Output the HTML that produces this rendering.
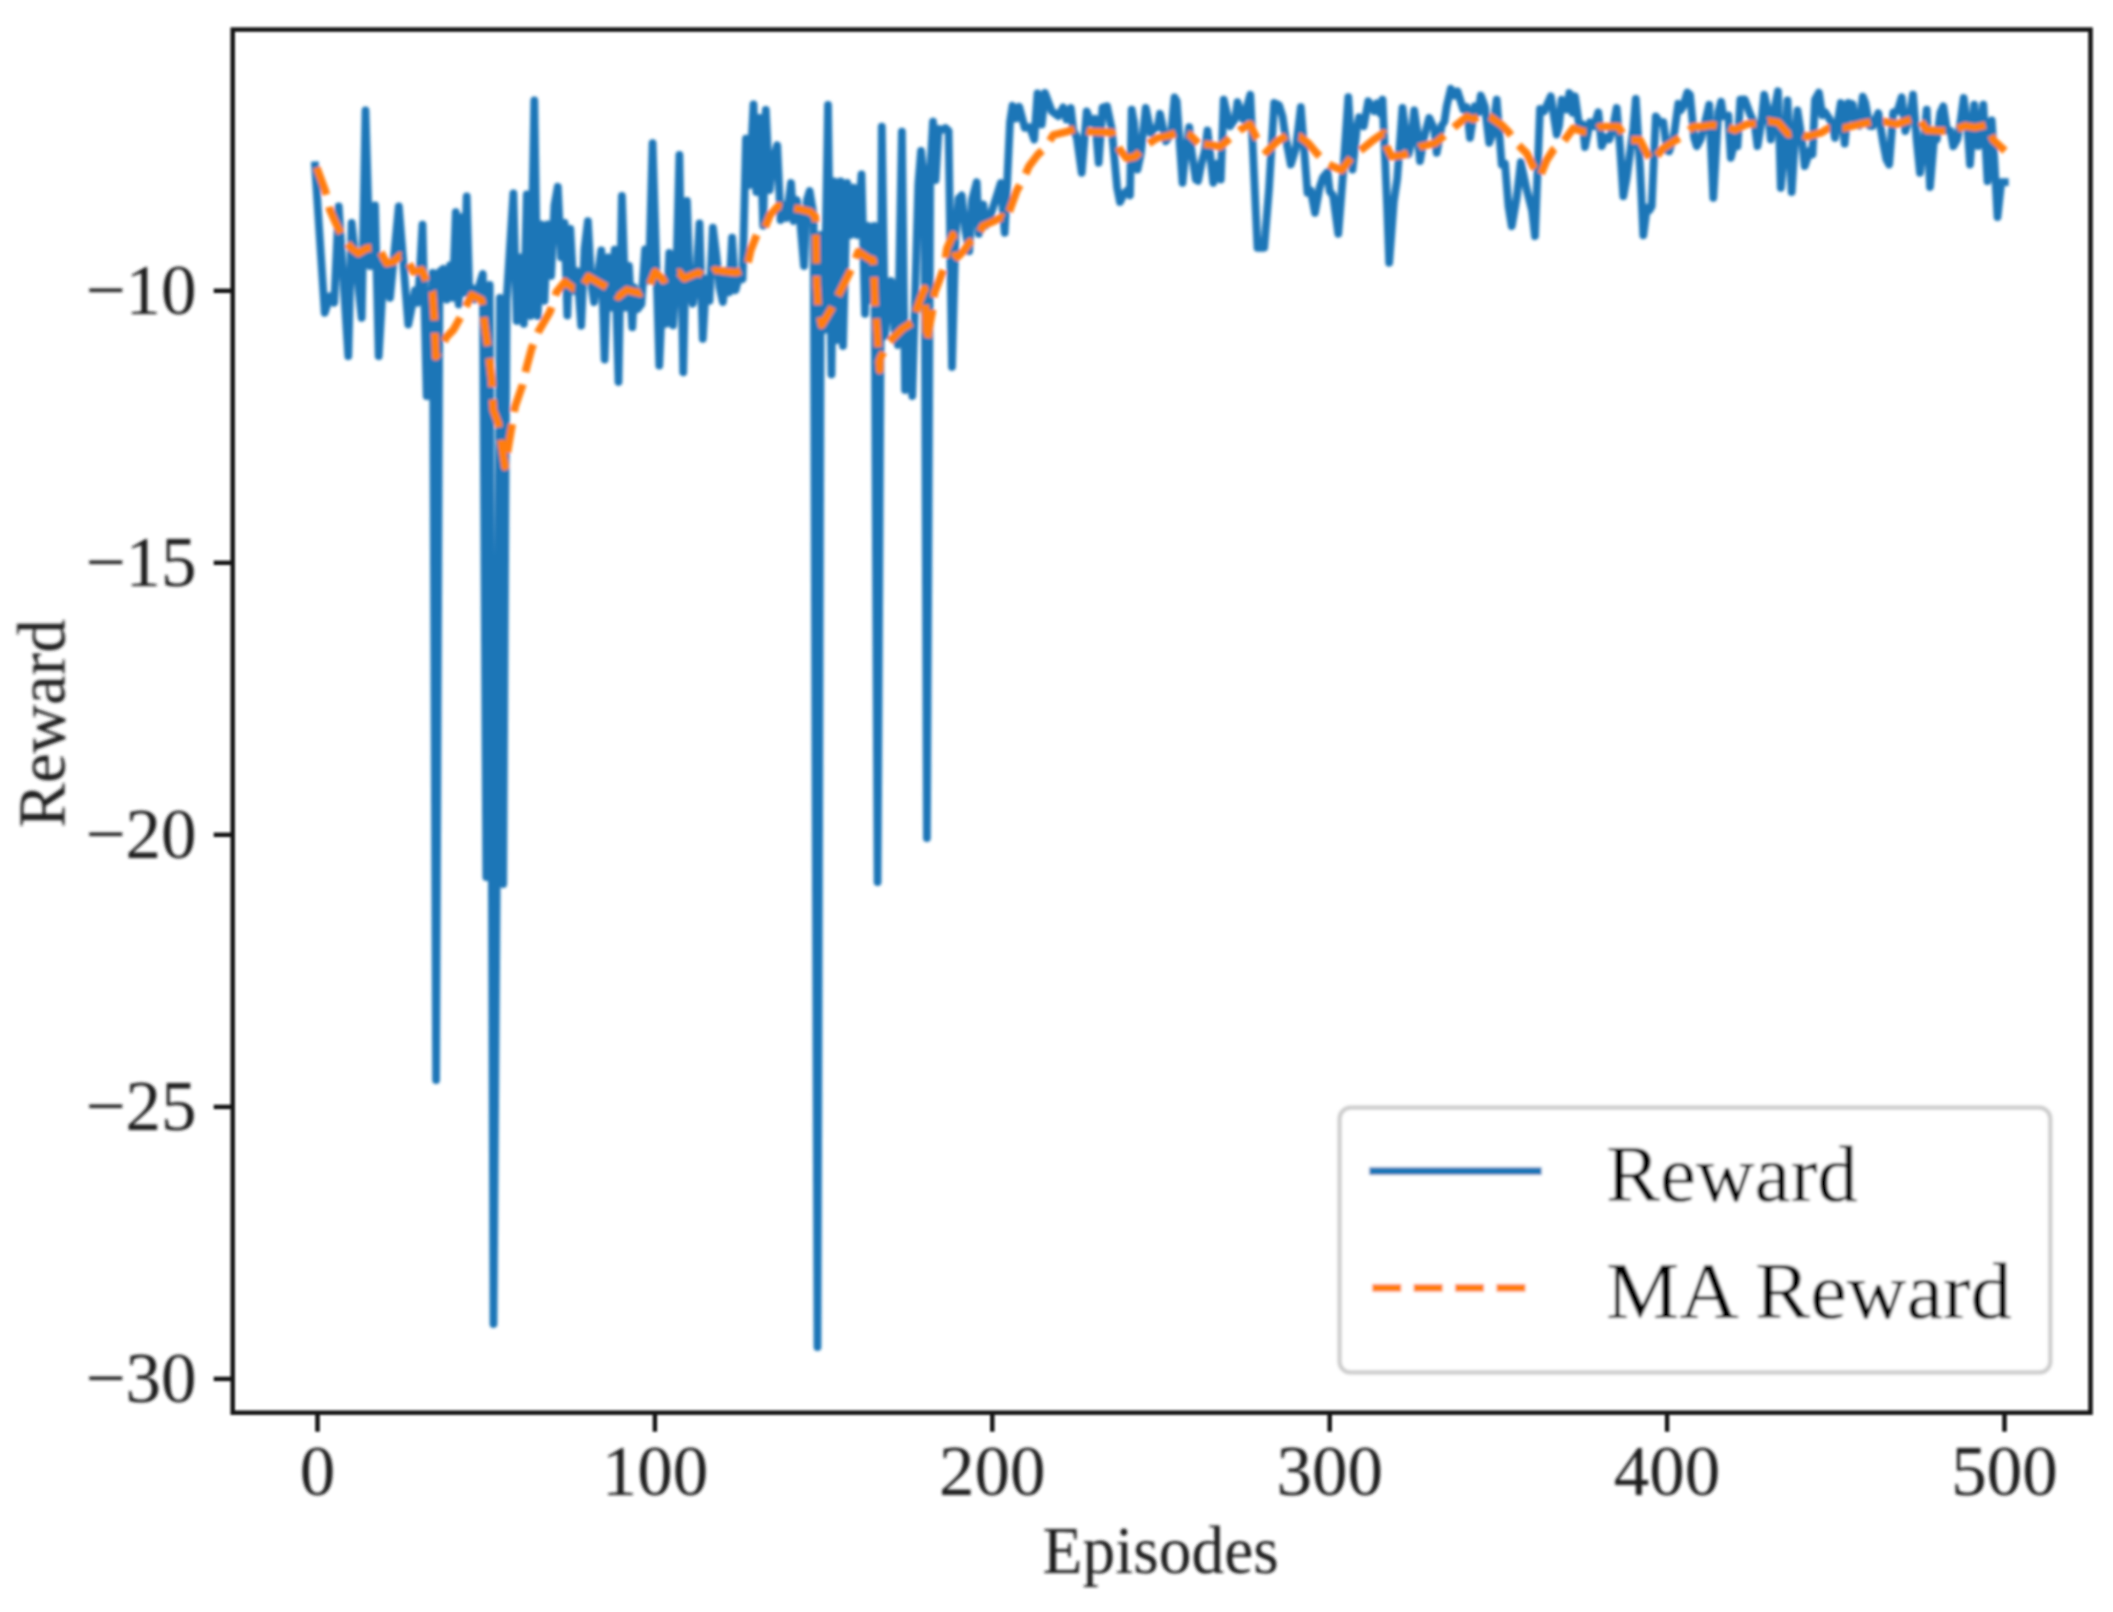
<!DOCTYPE html>
<html lang="en"><head><meta charset="utf-8"><title>Reward vs Episodes</title>
<style>
html,body{margin:0;padding:0;background:#fff}
body{width:2113px;height:1612px;overflow:hidden}
svg{display:block}
text{font-family:"Liberation Serif",serif;fill:#1a1a1a}
.tk{font-size:71px}
.al{font-size:67px}
.lg{font-size:80px;fill:#000}
</style></head><body>
<svg width="2113" height="1612" viewBox="0 0 2113 1612">
<rect width="2113" height="1612" fill="#fff"/>
<defs><clipPath id="ax"><rect x="232.7" y="29.6" width="1857.8" height="1383.1000000000001"/></clipPath><filter id="bl" x="-5%" y="-5%" width="110%" height="110%"><feGaussianBlur stdDeviation="1.8"/></filter><filter id="bs" x="-5%" y="-5%" width="110%" height="110%"><feGaussianBlur stdDeviation="0.9"/></filter></defs>
<g filter="url(#bl)">
<g clip-path="url(#ax)" fill="none" stroke-linejoin="round">
<path d="M315.0 165.5 L317.5 203.5 L320.9 254.7 L324.7 312.8 L327.6 303.7 L330.0 296.3 L334.2 302.8 L338.7 206.3 L341.1 244.1 L344.5 296.7 L348.3 356.2 L351.7 223.0 L354.6 250.6 L358.0 282.6 L361.7 317.8 L365.5 110.5 L370.0 266.2 L375.0 205.5 L378.7 356.2 L381.6 306.5 L384.2 262.2 L390.0 297.8 L395.1 244.8 L398.8 206.3 L401.9 244.2 L405.2 286.2 L408.3 324.5 L412.0 305.9 L415.0 290.5 L418.0 302.8 L422.5 224.7 L426.7 396.2 L428.8 352.2 L432.7 273.0 L436.1 1080.0 L439.5 272.0 L443.3 268.8 L446.7 299.5 L450.0 265.5 L452.7 297.8 L455.8 212.2 L458.7 304.5 L461.3 217.2 L464.0 292.8 L466.7 196.3 L469.3 293.3 L471.7 287.8 L474.7 299.5 L479.5 284.5 L482.8 274.0 L486.3 877.0 L489.7 285.0 L493.5 1324.0 L496.7 884.0 L499.9 298.0 L503.2 884.0 L506.6 300.0 L509.8 249.6 L513.4 193.5 L516.7 321.0 L520.1 257.4 L523.8 323.9 L526.8 194.3 L530.5 316.0 L534.3 100.5 L537.7 316.0 L541.0 224.4 L544.4 300.9 L547.7 224.4 L551.1 275.8 L554.4 205.5 L557.8 186.8 L561.1 257.4 L564.5 222.8 L567.3 315.5 L570.3 229.0 L573.7 290.9 L577.3 271.3 L581.2 325.6 L584.5 249.0 L587.9 221.1 L591.2 282.5 L594.1 302.1 L597.9 274.2 L601.3 250.4 L604.6 359.5 L608.0 257.4 L611.3 307.6 L614.7 249.6 L618.5 382.0 L621.9 196.0 L625.6 307.6 L628.9 265.8 L632.3 327.2 L634.2 287.4 L637.5 309.2 L641.4 304.2 L645.1 249.4 L648.8 280.7 L652.6 143.1 L656.0 253.9 L659.3 365.6 L662.6 287.4 L666.0 323.8 L669.3 252.8 L673.0 325.4 L676.4 270.7 L679.4 154.8 L683.2 372.3 L686.9 200.9 L689.9 287.4 L692.9 303.7 L696.3 279.0 L699.5 223.5 L702.8 338.8 L706.2 279.0 L709.5 300.8 L712.9 227.7 L716.2 253.9 L719.6 287.4 L722.9 302.0 L726.3 270.7 L729.1 292.4 L732.1 237.7 L735.5 290.3 L739.2 275.7 L742.6 279.0 L746.0 138.6 L749.4 185.0 L753.5 104.5 L756.3 192.0 L759.6 118.0 L763.2 225.7 L765.8 110.0 L769.6 190.0 L773.0 161.0 L777.2 145.3 L780.6 220.0 L783.4 205.0 L786.5 218.0 L791.0 183.0 L793.6 221.0 L796.8 200.0 L800.2 222.0 L804.0 266.0 L806.9 200.0 L809.6 191.0 L813.6 215.0 L817.5 1347.0 L820.9 235.0 L824.2 330.0 L828.0 104.8 L831.5 374.5 L834.0 181.5 L837.3 340.0 L840.6 181.5 L843.0 346.0 L847.2 183.0 L850.6 235.0 L853.6 187.7 L857.3 235.0 L861.5 174.3 L865.0 313.8 L867.8 226.0 L870.9 300.0 L874.3 226.0 L877.6 882.0 L881.8 126.6 L885.0 336.0 L888.0 300.0 L891.2 281.0 L894.5 330.0 L897.8 345.0 L901.9 131.6 L905.0 390.0 L908.2 330.0 L912.3 396.0 L915.0 300.0 L918.3 184.0 L921.0 151.0 L924.4 182.0 L926.9 838.0 L930.3 170.0 L933.0 121.6 L935.6 180.0 L938.6 129.0 L942.0 130.0 L945.3 128.0 L948.6 131.0 L952.0 367.0 L955.5 235.0 L958.6 198.6 L961.7 195.5 L965.3 230.2 L969.2 251.2 L972.1 199.5 L976.7 182.2 L978.8 233.8 L983.3 204.5 L985.6 225.9 L989.2 219.5 L992.3 209.7 L995.7 199.1 L1000.8 183.0 L1004.7 232.8 L1010.0 122.2 L1012.5 105.8 L1015.9 118.6 L1019.2 106.8 L1024.7 127.8 L1030.0 127.2 L1034.2 139.5 L1037.5 93.5 L1041.7 124.5 L1045.0 93.0 L1051.7 111.2 L1058.3 116.2 L1063.2 107.4 L1066.5 119.6 L1070.8 108.0 L1073.3 130.2 L1076.7 136.8 L1081.7 172.8 L1086.7 111.3 L1090.8 122.8 L1095.0 118.8 L1098.7 162.8 L1102.5 107.5 L1107.0 106.2 L1111.7 128.8 L1117.1 187.4 L1120.0 202.0 L1123.9 194.0 L1127.3 190.5 L1130.0 195.3 L1131.7 109.7 L1134.0 122.1 L1137.5 169.5 L1140.8 153.6 L1145.8 108.0 L1150.9 133.0 L1153.3 129.5 L1157.6 126.9 L1160.0 113.8 L1165.8 141.2 L1171.1 134.4 L1174.5 97.5 L1176.7 101.3 L1182.5 182.8 L1184.6 161.0 L1189.2 127.2 L1191.4 150.2 L1195.8 179.5 L1198.1 180.8 L1201.5 163.4 L1204.9 150.7 L1207.5 130.5 L1213.3 182.8 L1217.5 163.8 L1220.8 179.5 L1223.7 99.7 L1230.0 126.2 L1235.2 118.7 L1237.5 102.2 L1243.3 119.5 L1250.3 94.7 L1257.5 247.8 L1264.2 247.8 L1269.0 188.9 L1274.2 103.0 L1279.1 105.3 L1282.5 116.3 L1285.0 133.8 L1290.8 164.5 L1296.0 147.6 L1300.8 107.2 L1307.5 192.8 L1310.8 190.5 L1315.0 212.8 L1319.6 187.5 L1323.0 177.3 L1327.5 172.2 L1329.7 191.2 L1333.1 195.7 L1338.3 233.7 L1343.2 171.6 L1348.3 97.2 L1352.5 169.5 L1356.7 129.1 L1359.2 117.2 L1363.7 126.2 L1368.3 101.3 L1374.2 111.2 L1376.9 103.3 L1380.3 113.6 L1382.5 99.7 L1387.1 206.4 L1389.2 262.8 L1393.8 201.9 L1397.2 178.8 L1402.5 108.0 L1408.3 154.5 L1410.7 145.3 L1414.2 110.5 L1417.4 132.0 L1420.0 161.2 L1424.2 136.7 L1429.2 118.0 L1434.3 129.1 L1436.7 152.8 L1441.7 125.5 L1444.4 121.6 L1446.7 106.2 L1450.8 88.8 L1454.5 95.5 L1457.5 91.3 L1463.3 109.5 L1466.7 107.2 L1470.0 137.8 L1474.8 106.3 L1478.2 112.6 L1480.8 95.5 L1484.9 106.5 L1489.2 142.8 L1491.7 136.0 L1496.7 99.7 L1501.7 164.5 L1505.0 163.8 L1508.5 206.4 L1511.7 226.2 L1516.7 197.8 L1520.8 162.2 L1526.7 189.5 L1532.1 210.6 L1535.0 236.2 L1540.0 108.8 L1544.2 111.2 L1550.8 96.3 L1556.7 134.5 L1559.1 125.4 L1561.7 99.7 L1566.7 109.5 L1569.3 93.0 L1572.6 112.9 L1575.0 96.3 L1579.4 127.4 L1582.8 124.5 L1585.0 147.0 L1590.0 122.2 L1594.2 126.2 L1598.3 112.2 L1601.7 146.2 L1605.3 137.2 L1609.2 139.5 L1613.1 127.1 L1616.7 108.0 L1619.9 145.8 L1623.3 196.2 L1626.6 178.5 L1630.0 153.5 L1633.4 128.4 L1635.8 98.8 L1640.1 167.9 L1643.3 235.3 L1646.9 207.7 L1649.2 210.5 L1651.7 206.2 L1655.8 116.3 L1660.0 122.8 L1663.3 122.2 L1667.1 150.5 L1669.2 151.2 L1673.8 136.3 L1678.3 103.8 L1680.6 110.4 L1683.3 106.2 L1687.3 92.5 L1690.0 94.7 L1694.1 137.7 L1696.7 146.2 L1700.8 139.1 L1704.2 126.1 L1709.2 104.7 L1713.3 197.8 L1718.3 112.2 L1721.1 101.7 L1723.3 116.2 L1728.3 115.5 L1730.8 157.8 L1735.8 137.2 L1737.5 146.2 L1740.3 99.7 L1744.7 99.4 L1750.0 113.8 L1754.8 124.8 L1757.5 146.2 L1761.6 121.0 L1764.2 94.7 L1768.3 112.6 L1770.8 139.5 L1775.1 106.1 L1778.0 91.3 L1780.8 187.8 L1785.2 143.1 L1787.5 100.5 L1791.7 192.0 L1795.3 133.4 L1797.5 110.5 L1802.1 141.1 L1804.7 166.2 L1810.0 150.5 L1812.5 154.5 L1815.0 99.7 L1818.9 92.7 L1822.3 115.2 L1825.0 112.2 L1829.1 118.4 L1832.4 124.4 L1835.0 137.8 L1840.8 103.0 L1844.7 143.7 L1848.3 103.0 L1852.7 104.2 L1855.0 122.8 L1859.4 125.6 L1862.8 96.6 L1865.3 103.0 L1869.5 125.9 L1872.5 126.2 L1878.3 113.0 L1883.0 141.9 L1886.4 159.4 L1889.2 164.5 L1893.3 112.2 L1897.5 111.2 L1901.7 97.2 L1905.3 131.2 L1910.0 115.3 L1913.0 94.7 L1916.8 141.1 L1920.0 172.8 L1923.5 144.9 L1926.7 109.7 L1930.0 187.0 L1934.2 137.2 L1936.7 139.5 L1940.4 112.7 L1943.3 106.3 L1947.1 130.6 L1950.5 130.9 L1953.3 146.2 L1957.3 139.3 L1960.6 121.0 L1963.7 98.0 L1967.4 125.2 L1970.0 164.5 L1974.2 104.7 L1978.3 146.2 L1980.9 129.8 L1983.3 104.7 L1987.5 181.2 L1991.7 120.5 L1994.4 160.7 L1997.5 217.0 L2001.3 182.2 L2004.8 182.2" stroke="#1d76b7" stroke-width="7.8" stroke-linecap="square"/>
<path d="M316.7 167.5 L325.0 190.0 L330.0 210.0 L335.8 223.3 L344.2 240.0 L351.7 248.3 L358.3 253.3 L366.7 248.3 L378.3 247.5 L386.7 263.3 L393.3 261.7 L400.0 255.8 L406.7 258.3 L413.3 271.7 L421.7 270.0 L426.7 281.7 L432.5 291.7 L434.2 316.7 L435.8 356.7 L446.7 336.7 L453.3 330.0 L460.8 316.7 L471.7 295.0 L481.7 300.0 L485.0 326.7 L488.3 350.0 L491.7 380.0 L493.3 410.0 L498.3 423.3 L505.0 466.7 L515.0 406.7 L522.5 385.0 L526.7 366.7 L531.7 348.3 L538.3 331.7 L550.0 311.7 L556.7 291.7 L565.0 281.7 L573.3 288.3 L581.7 288.3 L588.3 276.7 L600.0 283.3 L608.3 288.3 L618.3 296.7 L626.7 290.0 L640.0 293.3 L648.3 288.3 L655.0 271.7 L663.3 280.0 L670.8 275.8 L679.2 272.5 L684.2 278.3 L698.3 272.5 L705.0 276.7 L715.0 270.0 L726.7 271.7 L736.7 272.5 L746.7 268.3 L750.8 250.0 L756.7 235.0 L763.3 231.7 L770.0 215.0 L778.3 205.8 L786.7 207.5 L800.0 209.2 L810.0 211.7 L815.3 216.7 L816.0 236.7 L816.7 283.3 L818.0 305.0 L821.7 325.0 L831.7 308.3 L840.0 291.7 L851.7 268.3 L858.3 251.7 L868.3 258.3 L873.0 260.0 L874.0 275.0 L875.0 303.3 L876.7 325.0 L878.3 350.0 L879.7 370.0 L880.0 358.5 L888.9 342.1 L902.3 328.7 L914.3 321.3 L917.2 307.9 L921.0 297.4 L924.7 288.5 L926.9 342.1 L929.6 325.7 L932.1 312.3 L934.4 293.0 L939.6 279.6 L944.0 267.6 L947.0 248.3 L953.0 234.9 L955.2 254.2 L957.4 257.2 L963.4 251.3 L969.4 242.3 L976.8 238.6 L982.8 226.0 L993.2 221.5 L1002.1 217.0 L1006.6 220.0 L1011.0 206.6 L1017.0 190.2 L1023.0 179.8 L1028.9 166.4 L1037.9 154.5 L1045.0 148.3 L1053.3 135.0 L1066.7 131.7 L1076.7 128.3 L1090.0 131.7 L1111.7 132.5 L1120.0 150.0 L1126.7 158.3 L1135.0 156.7 L1146.7 145.0 L1156.7 138.3 L1168.3 135.8 L1180.0 131.7 L1190.0 135.0 L1198.3 143.3" stroke="#ff7d0a" stroke-width="7.8" stroke-dasharray="28.9 12.5" stroke-linecap="butt"/>
<path d="M2005.0 150.8 L1993.3 140.0 L1986.7 125.0 L1975.0 127.5 L1965.0 125.8 L1951.7 130.8 L1940.0 130.8 L1926.7 130.0 L1918.3 117.5 L1906.7 120.8 L1896.7 124.2 L1885.0 121.7 L1873.3 121.7 L1860.0 124.2 L1843.3 128.3 L1828.3 128.3 L1821.7 132.5 L1806.7 136.7 L1796.7 132.5 L1788.3 134.2 L1778.3 122.5 L1768.3 120.8 L1761.7 123.3 L1746.7 124.2 L1735.0 130.0 L1726.7 126.7 L1711.7 125.0 L1701.7 126.7 L1693.3 126.7 L1681.7 136.7 L1673.3 141.7 L1663.3 148.3 L1651.7 161.7 L1646.7 153.3 L1640.0 140.0 L1626.7 140.0 L1618.3 126.7 L1611.7 126.7 L1600.0 126.7 L1593.3 131.7 L1583.3 131.7 L1573.3 128.3 L1563.3 141.7 L1553.3 150.0 L1546.7 160.0 L1540.0 176.7 L1533.3 166.7 L1526.7 153.3 L1516.7 143.3 L1508.3 131.7 L1501.7 125.0 L1490.0 116.7 L1483.3 114.2 L1473.3 119.2 L1466.7 116.7 L1456.7 125.0 L1445.0 135.0 L1435.0 143.3 L1420.0 146.7 L1411.7 151.7 L1403.3 155.0 L1391.7 156.7 L1386.7 146.7 L1383.3 133.3 L1373.3 140.0 L1363.3 148.3 L1353.3 155.0 L1341.7 170.0 L1333.3 166.7 L1326.7 163.3 L1316.7 153.3 L1308.3 143.3 L1300.0 136.7 L1286.7 135.8 L1276.7 141.7 L1266.7 151.7 L1256.7 138.3 L1250.0 124.2 L1240.0 130.0 L1230.0 138.3 L1220.0 146.7 L1211.7 145.0 L1198.3 143.3" stroke="#ff7d0a" stroke-width="7.8" stroke-dasharray="28.9 12.5" stroke-dashoffset="7.9" stroke-linecap="butt"/>
</g>

</g><g filter="url(#bs)"><g stroke="#141414" stroke-width="4.5" fill="none">
<line x1="317.5" y1="1412.7" x2="317.5" y2="1431.7"/>
<line x1="654.9" y1="1412.7" x2="654.9" y2="1431.7"/>
<line x1="992.3" y1="1412.7" x2="992.3" y2="1431.7"/>
<line x1="1329.7" y1="1412.7" x2="1329.7" y2="1431.7"/>
<line x1="1667.1" y1="1412.7" x2="1667.1" y2="1431.7"/>
<line x1="2004.5" y1="1412.7" x2="2004.5" y2="1431.7"/>
<line x1="232.7" y1="290.8" x2="213.7" y2="290.8"/>
<line x1="232.7" y1="562.8" x2="213.7" y2="562.8"/>
<line x1="232.7" y1="834.8" x2="213.7" y2="834.8"/>
<line x1="232.7" y1="1106.9" x2="213.7" y2="1106.9"/>
<line x1="232.7" y1="1378.9" x2="213.7" y2="1378.9"/>
<rect x="232.7" y="29.6" width="1857.8" height="1383.1000000000001"/>
</g></g><g filter="url(#bl)">
<text class="tk" x="317.5" y="1495" text-anchor="middle">0</text>
<text class="tk" x="654.9" y="1495" text-anchor="middle">100</text>
<text class="tk" x="992.3" y="1495" text-anchor="middle">200</text>
<text class="tk" x="1329.7" y="1495" text-anchor="middle">300</text>
<text class="tk" x="1667.1" y="1495" text-anchor="middle">400</text>
<text class="tk" x="2004.5" y="1495" text-anchor="middle">500</text>
<text class="tk" x="196.5" y="314.2" text-anchor="end">−10</text>
<text class="tk" x="196.5" y="586.3" text-anchor="end">−15</text>
<text class="tk" x="196.5" y="858.3" text-anchor="end">−20</text>
<text class="tk" x="196.5" y="1130.4" text-anchor="end">−25</text>
<text class="tk" x="196.5" y="1402.4" text-anchor="end">−30</text>
<text class="al" x="1160.6" y="1572.5" text-anchor="middle" textLength="236" lengthAdjust="spacingAndGlyphs">Episodes</text>
<text class="al" transform="translate(64.5 723.5) rotate(-90)" text-anchor="middle">Reward</text>
<rect x="1339.6" y="1107.7" width="710.7" height="264.7" rx="11" ry="11" fill="#fff" fill-opacity="0.8" stroke="#ccc" stroke-width="4.2"/>
<line x1="1369.3" y1="1171.2" x2="1541.6" y2="1171.2" stroke="#1d76b7" stroke-width="7.8"/>
<line x1="1372.3" y1="1287.8" x2="1527" y2="1287.8" stroke="#ff7d0a" stroke-width="7.8" stroke-dasharray="28.9 12.5"/>
<text class="lg" x="1605.9" y="1201.2" textLength="252" lengthAdjust="spacingAndGlyphs">Reward</text>
<text class="lg" x="1605.9" y="1317.8" textLength="406" lengthAdjust="spacingAndGlyphs">MA Reward</text>
</g></svg></body></html>
